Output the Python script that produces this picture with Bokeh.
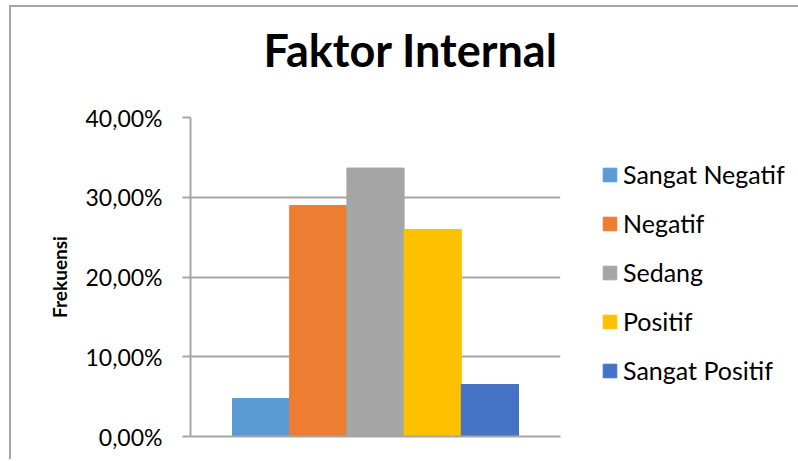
from bokeh.plotting import figure
from bokeh.models import (ColumnDataSource, Range1d, FixedTicker, Legend, LegendItem, Title)
from bokeh.embed import file_html
from bokeh.resources import INLINE

# ---- data ----
categories = ["Sangat Negatif", "Negatif", "Sedang", "Positif", "Sangat Positif"]
values = [0.0476, 0.2897, 0.3366, 0.2596, 0.0652]
colors = ["#5b9bd5", "#ed7d31", "#a5a5a5", "#ffc000", "#4472c4"]
tick_values = [0.0, 0.1, 0.2, 0.3, 0.4]
tick_labels = ["0,00%", "10,00%", "20,00%", "30,00%", "40,00%"]
title_text = "Faktor Internal"
y_label = "Frekuensi"

positions = list(range(len(categories)))
source = ColumnDataSource(dict(x=positions, top=values, color=colors, cat=categories))

FONT = "Lato"
GRID = "#a6a6a6"

p = figure(frame_width=370, frame_height=319, output_backend="svg", toolbar_location=None,
           x_range=Range1d(-1.234, len(categories) - 1 + 1.234),
           y_range=Range1d(tick_values[0], tick_values[-1]),
           min_border_left=179, min_border_right=227,
           min_border_top=110, min_border_bottom=25)
p.outline_line_color = None
p.background_fill_color = "white"
p.border_fill_color = "white"
# chart-area border (top and left edges visible, like the cropped Excel chart)
p.margin = (7, 0, 0, 11)
p.styles = {"box-shadow": "-2px -2px 0 0 #a6a6a6"}

r = p.vbar(x="x", top="top", bottom=0, width=1.0, color="color", source=source)

# y axis
ya = p.yaxis[0]
ya.ticker = FixedTicker(ticks=tick_values)
ya.major_label_overrides = {v: l for v, l in zip(tick_values, tick_labels)}
ya.major_label_text_font = FONT
ya.major_label_text_font_size = "23px"
ya.major_label_text_color = "#000000"
ya.major_label_standoff = 20
ya.major_tick_out = 8
ya.major_tick_in = 0
ya.minor_tick_line_color = None
ya.major_tick_line_color = GRID
ya.major_tick_line_width = 2
ya.axis_line_color = GRID
ya.axis_line_width = 2
ya.axis_label = y_label
ya.axis_label_text_font = FONT
ya.axis_label_text_font_style = "bold"
ya.axis_label_text_font_size = "19px"
ya.axis_label_text_color = "#000000"
ya.axis_label_standoff = 11

# x axis
xa = p.xaxis[0]
xa.ticker = FixedTicker(ticks=[])
xa.major_label_text_font_size = "0px"
xa.major_tick_line_color = None
xa.minor_tick_line_color = None
xa.axis_line_color = GRID
xa.axis_line_width = 2

p.xgrid.grid_line_color = None
p.ygrid.ticker = FixedTicker(ticks=tick_values)
p.ygrid.grid_line_color = GRID
p.ygrid.grid_line_width = 2

# title: an invisible spacer next to the frame, then the real title above it
spacer = Title(text=" ", text_font_size="1px", standoff=38)
p.add_layout(spacer, "above")
t = Title(text=title_text, align="left", offset=73, text_font=FONT,
          text_font_style="bold", text_font_size="45px", text_color="#000000",
          standoff=0)
p.add_layout(t, "above")

# legend (outside the frame, to its right)
items = [LegendItem(label=c, renderers=[r], index=i) for i, c in enumerate(categories)]
leg = Legend(items=items, location=(41, 51), orientation="vertical")
leg.label_text_font = FONT
leg.label_text_font_size = "25px"
leg.label_text_color = "#000000"
leg.glyph_width = 17
leg.glyph_height = 17
leg.label_standoff = 5
leg.spacing = 19
leg.margin = 0
leg.padding = 10
leg.border_line_color = None
leg.background_fill_alpha = 0
p.add_layout(leg, "right")

open("out.html", "w").write(file_html(p, INLINE))
